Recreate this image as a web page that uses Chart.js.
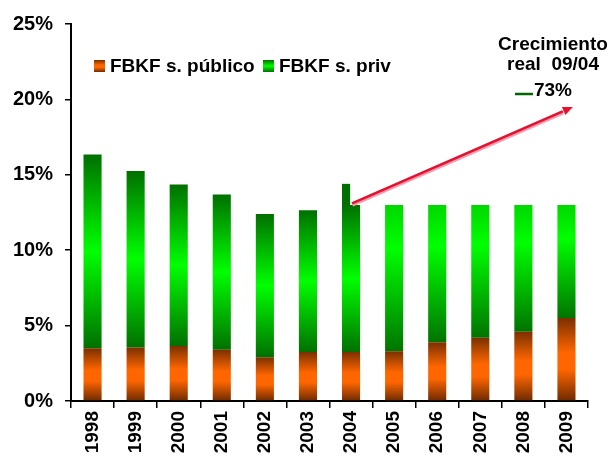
<!DOCTYPE html>
<html>
<head>
<meta charset="utf-8">
<script src="https://cdn.jsdelivr.net/npm/chart.js@4.4.0/dist/chart.umd.min.js"></script>
<style>
  body { margin: 0; background: #fff; }
  canvas { display: block; }
</style>
</head>
<body>
<canvas id="grafico" width="608" height="468"></canvas>
<script>
// datos (% del PIB)
const years = ['1998', '1999', '2000', '2001', '2002', '2003', '2004', '2005', '2006', '2007', '2008', '2009'];
const publico = [3.5, 3.55, 3.65, 3.4, 2.9, 3.25, 3.25, 3.3, 3.9, 4.2, 4.6, 5.5];
const privado = [12.85, 11.7, 10.7, 10.3, 9.5, 9.4, 9.75, 9.7, 9.1, 8.8, 8.4, 7.5];
const yTicks = [0, 5, 10, 15, 20, 25];
const firstProjected = 7; // desde 2005 la barra cambia de degradado
const pico2004 = 14.4;     // saliente de la barra 2004
const flechaDesde = 13.1;
const flechaHasta = 19.5;
const flechaHastaX = 11.15;
const crecimiento = '73%';

const fontFam = '"Liberation Sans", Arial, sans-serif';

function degradado(ctx, lo, hi, stops, fallback) {
  const chart = ctx.chart;
  const ys = chart.scales.y;
  if (!chart.chartArea || !ys) return fallback;
  const yTop = ys.getPixelForValue(hi);
  const yBot = ys.getPixelForValue(lo);
  if (!isFinite(yTop) || !isFinite(yBot) || yTop === yBot) return fallback;
  const g = chart.ctx.createLinearGradient(0, yTop, 0, yBot);
  stops.forEach(s => g.addColorStop(s[0], s[1]));
  return g;
}

const stopsPub = [[0, '#7a3000'], [0.42, '#ff6600'], [0.62, '#ff6600'], [1, '#6e2a00']];
const stopsPriv = [[0, '#007000'], [0.5, '#00ff00'], [1, '#007000']];
const stopsPrivProy = [[0, '#00d800'], [0.3, '#00ff00'], [1, '#007400']];

// leyenda y anotaciones dibujadas a mano
const extras = {
  id: 'extras',
  afterDatasetsDraw(chart) {
    const c = chart.ctx;
    const xs = chart.scales.x, ys = chart.scales.y;
    const meta = chart.getDatasetMeta(1);
    const i04 = years.indexOf('2004');
    const bar = meta.data[i04];
    const left = bar.x - bar.width / 2;

    // saliente 2004
    c.save();
    c.fillStyle = '#007000';
    const yp = ys.getPixelForValue(pico2004);
    const yb = ys.getPixelForValue(publico[i04] + privado[i04]);
    c.fillRect(left, yp, bar.width * 0.45, yb - yp + 1);

    // flecha
    const x0 = left + bar.width * 0.45 + 2;
    const y0 = ys.getPixelForValue(flechaDesde);
    const x1 = xs.getPixelForValue(flechaHastaX);
    const y1 = ys.getPixelForValue(flechaHasta);
    const ang = Math.atan2(y1 - y0, x1 - x0);
    const head = 11;
    c.strokeStyle = '#f0a0b0';
    c.lineWidth = 4.5;
    c.beginPath();
    c.moveTo(x0, y0 + 1);
    c.lineTo(x1 - head * Math.cos(ang), y1 - head * Math.sin(ang) + 1);
    c.stroke();
    c.strokeStyle = '#e8102e';
    c.lineWidth = 2.5;
    c.beginPath();
    c.moveTo(x0, y0);
    c.lineTo(x1 - head * Math.cos(ang), y1 - head * Math.sin(ang));
    c.stroke();
    c.fillStyle = '#e8102e';
    c.beginPath();
    c.moveTo(x1, y1);
    c.lineTo(x1 - head * Math.cos(ang - 0.4), y1 - head * Math.sin(ang - 0.4));
    c.lineTo(x1 - head * Math.cos(ang + 0.4), y1 - head * Math.sin(ang + 0.4));
    c.closePath();
    c.fill();

    // leyenda
    const lg = [
      { txt: 'FBKF s. público', stops: stopsPub, x: 94 },
      { txt: 'FBKF s. priv', stops: stopsPriv, x: 263 }
    ];
    c.font = 'bold 19px ' + fontFam;
    c.textBaseline = 'alphabetic';
    c.textAlign = 'left';
    lg.forEach(l => {
      const g = c.createLinearGradient(0, 60, 0, 72);
      l.stops.forEach(s => g.addColorStop(s[0], s[1]));
      c.fillStyle = g;
      c.fillRect(l.x, 60, 11, 12);
      c.fillStyle = '#000';
      c.fillText(l.txt, l.x + 16, 72);
    });

    // texto crecimiento
    c.font = 'bold 19px ' + fontFam;
    c.textAlign = 'center';
    c.fillText('Crecimiento', 553, 50);
    c.fillText('real  09/04', 553, 70);
    c.fillText(crecimiento, 553, 96);
    c.strokeStyle = '#006600';
    c.lineWidth = 2.5;
    c.beginPath();
    c.moveTo(515, 94);
    c.lineTo(533, 94);
    c.stroke();
    c.restore();
  }
};

const chart = new Chart(document.getElementById('grafico'), {
  type: 'bar',
  data: {
    labels: years,
    datasets: [
      {
        label: 'FBKF s. público',
        data: publico,
        backgroundColor: ctx => {
          const i = ctx.dataIndex;
          return degradado(ctx, 0, publico[i], stopsPub, '#ff6600');
        }
      },
      {
        label: 'FBKF s. priv',
        data: privado,
        backgroundColor: ctx => {
          const i = ctx.dataIndex;
          const st = i >= firstProjected ? stopsPrivProy : stopsPriv;
          return degradado(ctx, publico[i], publico[i] + privado[i], st, '#00ff00');
        }
      }
    ]
  },
  options: {
    responsive: false,
    animation: false,
    layout: { padding: { top: 19, right: 20, left: 4, bottom: 0 } },
    plugins: {
      legend: { display: false },
      tooltip: { enabled: false }
    },
    datasets: {
      bar: { categoryPercentage: 1, barPercentage: 0.42, borderWidth: 0 }
    },
    scales: {
      x: {
        stacked: true,
        afterFit: axis => { axis.height = 67; },
        grid: { drawOnChartArea: false, color: '#000', tickLength: 7, lineWidth: 1.5 },
        border: { color: '#000', width: 2 },
        ticks: {
          color: '#000',
          minRotation: 90,
          maxRotation: 90,
          padding: 3,
          font: { family: fontFam, size: 19, weight: 'bold' }
        }
      },
      y: {
        stacked: true,
        min: 0,
        max: 25,
        afterBuildTicks: axis => { axis.ticks = yTicks.map(v => ({ value: v })); },
        afterFit: axis => { axis.width = 67; },
        grid: { drawOnChartArea: false, color: '#000', tickLength: 6, lineWidth: 1.5 },
        border: { color: '#000', width: 2 },
        ticks: {
          color: '#000',
          padding: 12,
          font: { family: fontFam, size: 20, weight: 'bold' },
          callback: v => v + '%'
        }
      }
    }
  },
  plugins: [extras]
});
</script>
</body>
</html>
